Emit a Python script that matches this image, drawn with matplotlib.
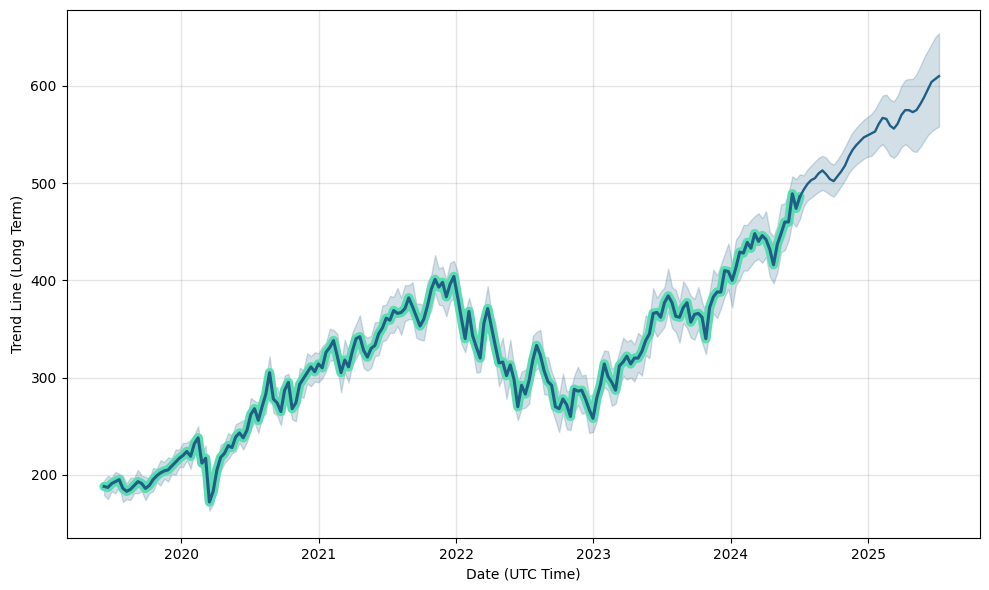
import matplotlib
matplotlib.use('Agg')
import matplotlib.pyplot as plt
import matplotlib.dates as mdates
import numpy as np
import pandas as pd

# values, one every 10 days from 2019-06-10
hist_trend = [188,187,191,193,195,186,183,185,189,193,
              191,186,189,195,199,202,204,205,209,213,
              217,220,224,219,232,238,212,217,172,183,
              205,218,222,230,228,239,243,238,246,262,
              268,256,270,283,305,278,274,265,287,295,
              268,274,293,299,305,311,306,314,310,326,
              331,338,322,305,318,311,327,340,342,328,
              321,330,333,345,351,361,359,369,366,367,
              371,382,373,363,353,360,374,391,401,393,
              398,383,396,404,383,361,340,368,343,331,
              320,356,371,352,333,315,316,302,313,298,
              270,292,283,297,318,333,323,307,296,292,
              270,268,278,272,260,288,286,287,278,267,
              258,279,293,314,301,295,287,312,316,322,
              314,320,320,327,338,345,366,367,362,377,
              384,377,363,362,372,377,357,365,366,362,
              340,372,383,388,388,410,409,400,413,429,
              428,439,433,448,440,446,442,432,416,437,
              448,460,460,489,474,486]
hist_upper = [194,199,197,203,201,199,191,197,197,205,
              199,198,196,207,206,215,213,218,217,226,
              226,233,233,236,241,250,222,230,183,198,
              215,231,233,243,240,252,254,256,256,279,
              276,274,280,298,322,290,290,277,302,304,
              287,282,310,308,325,322,326,325,332,336,
              350,349,345,315,339,327,346,355,364,344,
              341,343,357,357,374,375,384,383,392,382,
              395,395,398,376,376,374,398,406,426,412,
              414,401,418,420,409,374,365,382,369,343,
              345,371,394,367,357,329,341,315,339,312,
              294,306,308,311,343,347,349,321,321,306,
              296,282,304,286,286,302,311,302,303,281,
              283,293,318,328,327,309,312,326,341,337,
              339,334,346,342,364,360,392,382,388,393,
              412,393,390,378,399,393,384,381,393,378,
              367,388,411,405,416,427,438,417,442,447,
              457,457,462,466,469,464,471,450,445,456,
              478,479,490,507,504,509]
hist_lower = [179,175,183,181,188,172,175,174,181,181,
              183,174,181,183,192,189,196,193,201,200,
              208,208,215,206,223,225,202,203,163,170,
              195,204,212,216,222,224,233,226,234,247,
              254,243,259,263,292,264,261,251,273,276,
              257,255,282,279,294,291,296,295,299,307,
              317,318,312,285,305,295,313,320,327,310,
              307,310,322,323,337,339,346,346,353,344,
              358,360,360,341,339,338,360,369,387,375,
              374,363,378,382,369,335,326,344,329,305,
              306,333,356,328,319,291,301,278,299,273,
              256,268,269,273,304,309,309,283,282,268,
              256,244,264,247,246,264,272,263,264,243,
              244,255,279,290,287,271,273,288,302,298,
              300,296,306,302,323,320,351,342,347,352,
              368,351,347,336,356,351,341,339,350,336,
              324,346,366,361,371,383,391,372,395,401,
              410,410,415,420,422,418,424,404,397,408,
              429,431,441,460,455,463]

fc_trend = [493,499,503,505,510,513,509,504,502,507,
            512,518,527,534,539,543,547,549,551,553,
            561,567,566,559,556,561,570,575,575,573,
            575,581,588,596,604,607,610]
fc_upper = [508,514,518,522,526,528,526,521,519,524,
            530,537,545,552,557,561,565,568,571,576,
            583,590,591,586,584,590,600,606,607,607,
            612,620,629,636,643,650,654]
fc_lower = [476,482,485,488,491,493,491,488,486,491,
            497,503,510,515,519,522,525,527,528,532,
            537,540,535,528,526,530,537,540,537,533,
            532,537,543,549,553,556,558]

y_ticks = [200, 300, 400, 500, 600]

trend = np.array(hist_trend + fc_trend)
upper = np.array(hist_upper + fc_upper)
lower = np.array(hist_lower + fc_lower)
dates = pd.date_range('2019-06-10', periods=len(trend), freq='10D')
n_hist = len(hist_trend)

fig = plt.figure(figsize=(9.89, 5.9), dpi=100)
ax = fig.add_axes([66.5 / 989, 1 - 538 / 590, 913.5 / 989, 528 / 590])

ax.fill_between(dates, lower, upper, color='#1f5f85', alpha=0.2, lw=1, zorder=2)
ax.plot(dates[:n_hist], trend[:n_hist], color='#5cdcb2', lw=6.8,
        solid_joinstyle='round', solid_capstyle='round', zorder=3)
ax.plot(dates[:n_hist], trend[:n_hist], color='#1f5f85', lw=2.2, zorder=4)
ax.plot(dates[n_hist - 1:], trend[n_hist - 1:], color='#1f5f85', lw=1.7, zorder=4)

ax.xaxis.set_major_locator(mdates.YearLocator())
ax.xaxis.set_major_formatter(mdates.DateFormatter('%Y'))
ax.set_yticks(y_ticks)
ax.set_xlim(pd.Timestamp('2019-03-02'), pd.Timestamp('2025-10-25'))
ax.set_ylim(135, 678)
ax.grid(True, which='major', color='gray', ls='-', lw=1, alpha=0.2)
ax.set_axisbelow(True)
ax.set_xlabel('Date (UTC Time)')
ax.set_ylabel('Trend Line (Long Term)')

fig.savefig('out.png', dpi=100)
